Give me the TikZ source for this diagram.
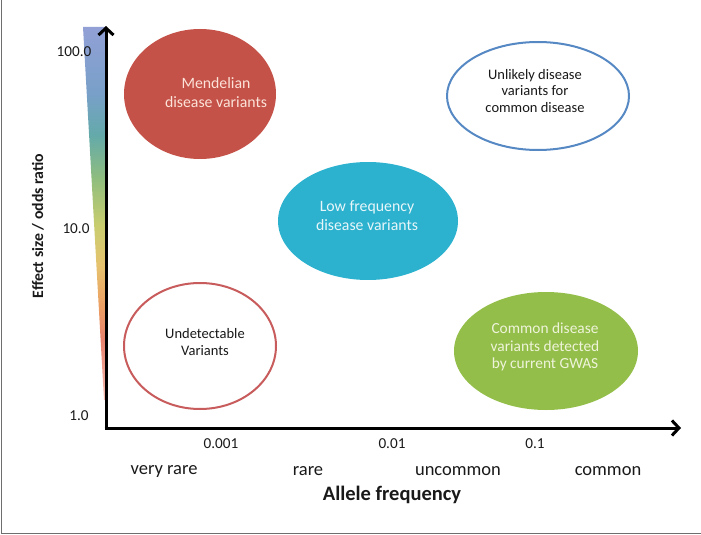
\documentclass[tikz,border=0pt]{standalone}
\usepackage{fontspec}
\setmainfont{Carlito}
\usetikzlibrary{arrows.meta,shapes.geometric}
\definecolor{menred}{RGB}{196,82,72}
\definecolor{lowteal}{RGB}{44,178,206}
\definecolor{gwasgreen}{RGB}{148,190,74}
\definecolor{unlblue}{RGB}{86,136,196}
\definecolor{undred}{RGB}{200,92,92}
\definecolor{framegray}{RGB}{110,110,110}
\definecolor{txt}{RGB}{25,25,25}
\definecolor{gA}{RGB}{146,160,214}
\definecolor{gB}{RGB}{120,160,200}
\definecolor{gC}{RGB}{100,170,170}
\definecolor{gD}{RGB}{145,190,125}
\definecolor{gE}{RGB}{200,205,110}
\definecolor{gF}{RGB}{230,195,110}
\definecolor{gG}{RGB}{236,160,100}
\definecolor{gH}{RGB}{232,130,110}
\definecolor{gI}{RGB}{245,190,180}
\pgfdeclareverticalshading{effbar}{100bp}{color(0bp)=(gI); color(25bp)=(gI); color(33bp)=(gH); color(37.7bp)=(gG); color(43.1bp)=(gF); color(48.5bp)=(gE); color(54.5bp)=(gD); color(60.5bp)=(gC); color(66bp)=(gB); color(75bp)=(gA); color(100bp)=(gA)}
\tikzset{
  blob/.style={ellipse, inner sep=0pt},
  ringblob/.style={blob, fill=white, line width=2pt},
  intext/.style={align=center, font=\fontsize{15.8}{19}\selectfont},
  ringtext/.style={align=center, text=txt, font=\fontsize{14.5}{16.8}\selectfont},
  ticklbl/.style={font=\fontsize{15.2}{17}\selectfont, text=txt},
  catlbl/.style={font=\fontsize{18.5}{20}\selectfont, text=txt},
  axisline/.style={line width=3pt, -{Straight Barb[length=7pt,width=15pt,line width=3pt]}}
}
\begin{document}
\begin{tikzpicture}[x=1pt,y=-1pt]
\useasboundingbox (0,0) rectangle (701,535);
\draw[framegray, line width=1.5pt] (1.5,-5) -- (1.5,533.5) -- (706,533.5);
% gradient wedge
\shade[shading=effbar] (83,27) -- (105,27) -- (105,400) -- (104,400) -- cycle;
% axes
\coordinate (origin) at (106,428);
\coordinate (ytip) at (106,26);
\coordinate (xtip) at (681,428);
\draw[axisline] ([yshift=1.5pt]origin) -- (ytip);
\draw[axisline] ([xshift=-1.5pt]origin) -- (xtip);
% ellipses
\node[blob, fill=menred, minimum width=152pt, minimum height=130pt] (mend) at (200,94) {};
\node[ringblob, draw=unlblue, minimum width=182pt, minimum height=108pt] (unl) at (538,96) {};
\node[blob, fill=lowteal, minimum width=180pt, minimum height=118pt] (low) at (368,221) {};
\node[ringblob, draw=undred, minimum width=152pt, minimum height=126pt] (und) at (200,346) {};
\node[blob, fill=gwasgreen, minimum width=184pt, minimum height=118pt] (gwas) at (546,351) {};
% ellipse texts
\node[intext, text={rgb,255:red,252;green,226;blue,216}] (mendtxt) at (216,93) {Mendelian\\disease variants};
\node[ringtext] (unltxt) at (535,91) {Unlikely disease\\variants for\\common disease};
\node[intext, text={rgb,255:red,232;green,246;blue,250}] (lowtxt) at (367,216) {Low frequency\\disease variants};
\node[ringtext] (undtxt) at (205,342) {Undetectable\\Variants};
\node[intext, text={rgb,255:red,238;green,244;blue,218}, font=\fontsize{15.4}{17.5}\selectfont] (gwastxt) at (545,347) {Common disease\\variants detected\\by current GWAS};
% y tick labels
\node[ticklbl] (y100) at (74,52) {100.0};
\node[ticklbl] (y10) at (76,229) {10.0};
\node[ticklbl] (y1) at (79,416) {1.0};
\node[rotate=90, font=\bfseries\fontsize{15.8}{18}\selectfont, text=txt] (ylab) at (38,226) {Effect size / odds ratio};
% x tick labels
\node[ticklbl] (x001) at (221,444) {0.001};
\node[ticklbl] (x01) at (392,444) {0.01};
\node[ticklbl] (x1) at (535,444) {0.1};
\node[catlbl] (vr) at (164,471) {very rare};
\node[catlbl] (r) at (308,471) {rare};
\node[catlbl] (unc) at (458,471) {uncommon};
\node[catlbl] (com) at (608,471) {common};
\node[font=\bfseries\fontsize{20.5}{22}\selectfont, text=txt] (xlab) at (392,495) {Allele frequency};
\end{tikzpicture}
\end{document}
